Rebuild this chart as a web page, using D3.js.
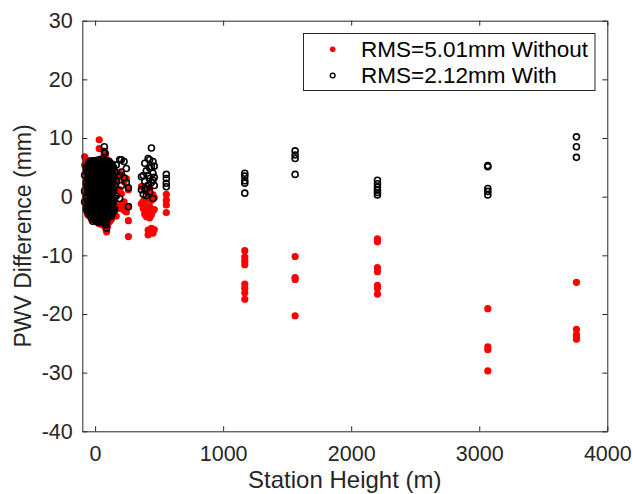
<!DOCTYPE html>
<html>
<head>
<meta charset="utf-8">
<script src="https://cdn.jsdelivr.net/npm/d3@7"></script>
<style>
  body { margin: 0; background: #fff; }
  svg { display: block; font-family: "Liberation Sans", Arial, sans-serif; }
</style>
</head>
<body>
<svg id="chart" width="633" height="494"></svg>
<script>

// station heights (m)
var heights = [
    -82, -70, -64, -58, -53, -48, -43, -38, -33, -28, -23, -18, -13, -8, -3,
    2, 7, 12, 17, 22, 27, 32, 37, 42, 47, 52, 57, 62, 67, 72, 77, 82, 86, 90, 95,
    100, 105, 110, 115, 120, 125, 130, 135, 140, 146, 152, 165, 192, 205, 226, 244, 260,
    362, 376, 388, 400, 414, 426, 440, 452, 462, 556,
    1169, 1562, 2205, 3067, 3759
];

// PWV difference without correction (mm), one list per station
var withoutDiff = [
    [6.8, 5.4, 3.6, 0.7, -0.8],     // -82
    [6.3, 4.4, 1.9, -1.5],          // -70
    [5.0, 2.9, -1.0],               // -64
    [5.8, 3.9, 0.2, -2.4, -3.1],    // -58
    [4.6, 1.0, -2.0],               // -53
    [6.1, 2.8, -0.6, -2.9],         // -48
    [4.2, 0.3, -2.6],               // -43
    [5.7, 1.2, -1.8, -3.4],         // -38
    [5.1, 2.0, -3.0],               // -33
    [4.9, 0.8, -2.6, -3.9],         // -28
    [3.8, -0.2, -3.2],              // -23
    [6.0, 2.4, -1.1, -3.5],         // -18
    [4.6, 0.6, -2.8],               // -13
    [5.5, 3.3, -0.4, -3.7],         // -8
    [4.0, 1.3, -3.3],               // -3
    [5.9, 1.7, -2.1, -4.0],         // 2
    [5.2, 2.5, -2.7],               // 7
    [6.2, 3.0, -1.4, -3.8],         // 12
    [4.5, -0.9, -3.5],              // 17
    [5.6, 0.9, -2.4, -4.3],         // 22
    [3.9, 1.5, -4.0],               // 27
    [9.7, 8.2, 4.8, -0.8, -3.6, -4.6], // 32
    [5.0, 0.2, -3.1],               // 37
    [6.4, 2.2, -1.9, -4.1],         // 42
    [4.3, -1.2, -4.7],              // 47
    [5.2, 1.4, -2.8, -4.5],         // 52
    [5.6, 2.4, -3.4],               // 57
    [6.6, 3.5, -0.7, -3.9],         // 62
    [4.7, 0.0, -4.9],               // 67
    [7.2, 2.6, -1.6, -4.4],         // 72
    [6.4, 1.8, -3.7],               // 77
    [7.3, 5.8, 1.0, -2.9, -5.2],    // 82
    [5.1, 0.6, -5.6],               // 86
    [6.3, 3.1, -1.2, -4.8, -6.0],   // 90
    [4.5, -0.3, -5.0],              // 95
    [5.4, 0.4, -2.7, -4.6],         // 100
    [4.8, 1.3, -3.9],               // 105
    [6.1, 2.0, -1.8, -3.9],         // 110
    [4.2, -0.6, -4.2],              // 115
    [5.0, 1.1, -2.2, -3.3],         // 120
    [3.7, 0.7, -3.9],               // 125
    [4.4, 0.1, -2.9, -3.6],         // 130
    [4.1, -1.2, -3.5],              // 135
    [3.9, -0.5, -2.3, -3.2],        // 140
    [3.0, -1.5, -2.9],              // 146
    [3.5, -0.9, -2.6],              // 152
    [2.9, -1.6, -3.3],              // 165
    [4.0, 1.2, -2.0],               // 192
    [3.7, 0.5, -1.4],               // 205
    [2.6, -0.9, -2.3],              // 226
    [3.1, -2.6],                    // 244
    [1.2, -1.7, -4.1, -6.8],        // 260
    [1.7, -1.2],                    // 362
    [1.7, -0.8, -2.0],              // 376
    [-1.1, -2.4, -3.0],             // 388
    [0.9, -1.8, -3.4],              // 400
    [-0.3, -2.9, -5.7, -6.5],       // 414
    [1.4, -1.7, -3.6],              // 426
    [-0.6, -3.1, -5.4],             // 440
    [0.3, -2.4, -6.2],              // 452
    [-0.2, -2.2, -5.6],             // 462
    [0.4, -0.6, -1.4, -2.7],        // 556
    [-9.2, -10.3, -11.0, -11.6, -14.9, -15.6, -16.4, -17.5], // 1169
    [-10.2, -13.8, -14.1, -20.3],   // 1562
    [-7.2, -7.7, -12.1, -12.8, -15.1, -15.6, -16.6], // 2205
    [-19.1, -25.6, -26.1, -29.7],   // 3067
    [-14.6, -22.6, -23.5, -24.0, -24.3] // 3759
];

// PWV difference with correction (mm)
var withDiff = [
    [3.7, 1.0, -0.9],                               // -82
    [5.0, 2.4, -0.2, -2.1],                         // -70
    [4.2, 1.8, -0.6, -2.4],                         // -64
    [5.3, 3.1, 1.0, -0.9, -2.6],                    // -58
    [4.8, 2.7, 1.5, -0.1, -1.8],                    // -53
    [5.6, 4.0, 2.3, 0.6, -1.4, -2.9],               // -48
    [6.0, 4.7, 3.0, 1.3, -0.5, -2.2, -3.0],         // -43
    [5.0, 3.4, 1.6, -0.2, -1.9, -3.3],              // -38
    [4.6, 2.9, 1.4, -0.9, -2.6],                    // -33
    [5.8, 4.3, 2.7, 1.1, -0.6, -2.3, -3.6],         // -28
    [6.1, 5.0, 3.3, 1.6, 0.0, -1.6, -3.0],          // -23
    [5.3, 3.7, 2.0, 0.3, -1.3, -2.8, -4.2],         // -18
    [4.8, 3.0, 1.3, -0.5, -2.2, -3.7],              // -13
    [5.9, 4.5, 2.9, 1.4, -0.1, -1.7, -3.1],         // -8
    [6.1, 5.1, 3.6, 2.0, 0.2, -1.3, -2.9, -4.0],    // -3
    [5.4, 3.9, 2.2, 0.7, -0.9, -2.5, -3.8],         // 2
    [4.6, 3.1, 1.5, -0.2, -1.6, -3.0],              // 7
    [5.7, 4.2, 2.6, 1.0, -0.5, -2.0, -3.4],         // 12
    [6.2, 4.9, 3.3, 1.7, 0.0, -1.5, -3.1, -4.3],    // 17
    [5.1, 3.5, 1.9, 0.4, -1.1, -2.7, -3.9],         // 22
    [4.7, 3.0, 1.6, -0.7, -2.3, -3.6],              // 27
    [5.9, 4.4, 2.8, 1.3, -0.3, -1.8, -3.3, -4.4],   // 32
    [6.3, 5.2, 3.5, 1.9, 0.3, -1.3, -2.9, -4.0],    // 37
    [5.5, 3.8, 2.3, 0.8, -0.8, -2.3, -3.7],         // 42
    [4.6, 3.1, 1.6, 0.0, -1.5, -3.0, -4.2],         // 47
    [6.0, 4.3, 2.7, 1.2, -0.4, -1.9, -3.2],         // 52
    [5.7, 5.0, 3.3, 1.7, 0.1, -1.4, -2.9, -3.8],    // 57
    [5.3, 3.6, 2.0, 0.5, -1.0, -2.6, -4.0],         // 62
    [6.2, 4.6, 3.0, 1.4, -0.3, -1.8, -3.2, -4.5],   // 67
    [8.5, 7.7, 5.8, 4.1, 2.5, 0.9, -0.6, -2.2, -3.5], // 72
    [7.4, 5.1, 3.4, 1.7, 0.1, -1.5, -3.0],          // 77
    [5.6, 4.0, 2.4, 0.9, -0.7, -2.4, -3.9],         // 82
    [6.1, 4.7, 3.0, 1.5, -0.1, -1.8, -3.3, -4.8],   // 86
    [5.2, 3.7, 2.1, 0.6, -1.2, -2.8, -4.3, -5.4],   // 90
    [4.9, 3.1, 1.5, -0.1, -1.7, -3.2],              // 95
    [5.8, 4.3, 2.8, 1.2, -0.4, -2.0, -3.4],         // 100
    [6.0, 4.6, 3.2, 1.5, -0.1, -1.6, -2.8],         // 105
    [5.0, 3.4, 1.8, 0.2, -1.4, -3.0],               // 110
    [5.7, 4.3, 2.7, 1.0, -0.6, -2.2, -3.3],         // 115
    [5.4, 3.9, 2.3, 0.8, -0.9, -2.5],               // 120
    [4.6, 2.9, 1.2, -0.5, -2.0, -3.4],              // 125
    [4.9, 3.3, 1.5, -0.1, -1.7, -3.1],              // 130
    [5.5, 4.0, 2.2, 0.5, -1.4, -2.8],               // 135
    [5.1, 2.9, 0.9, -1.1, -2.6],                    // 140
    [4.9, 3.5, 1.3, -0.6, -2.4],                    // 146
    [4.3, 2.0, -0.2, -2.1],                         // 152
    [5.4, 2.6, 0.1],                                // 165
    [6.3, 3.6, -0.3],                               // 192
    [6.3, 4.2, 1.9],                                // 205
    [6.0, 3.2],                                     // 226
    [4.8, 2.4],                                     // 244
    [1.5, -1.7],                                    // 260
    [3.4, 1.2],                                     // 362
    [3.6, 0.4],                                     // 376
    [5.7, 2.6, 1.4],                                // 388
    [4.4, 1.4, 0.2],                                // 400
    [6.5, 3.6, 2.0],                                // 414
    [6.3, 4.9, 3.1, 0.8],                           // 426
    [8.3, 5.1, 2.4],                                // 440
    [6.0, 4.0, 2.8, -0.3],                          // 452
    [5.2, 3.3, 1.9],                                // 462
    [3.8, 3.1, 2.3, 1.7],                           // 556
    [4.0, 3.5, 2.7, 2.3, 0.6],                      // 1169
    [7.8, 7.1, 6.5, 3.8],                           // 1562
    [2.8, 2.2, 1.6, 1.1, 0.7, 0.3],                 // 2205
    [5.3, 5.1, 1.4, 0.9, 0.3],                      // 3067
    [10.2, 8.5, 6.7]                                // 3759
];

var xTicks = [0, 1000, 2000, 3000, 4000];
var yTicks = [-40, -30, -20, -10, 0, 10, 20, 30];
var legendLabels = ["RMS=5.01mm Without", "RMS=2.12mm With"];

// layout (plotTop: "top" is taken by window.top)
var plotLeft = 82.3, plotRight = 607.3, plotTop = 20.7, plotBottom = 431.3;
var axisColor = "#262626";

var svg = d3.select("#chart");

var x = d3.scaleLinear().domain([-100, 4000]).range([plotLeft, plotRight]);
var y = d3.scaleLinear().domain([-40, 30]).range([plotBottom, plotTop]);

function flatten(vals) {
    return heights.flatMap(function (h, i) {
        return vals[i].map(function (v) { return { h: h, v: v }; });
    });
}

// red dots first, black circles on top
svg.append("g").selectAll("circle")
    .data(flatten(withoutDiff))
    .join("circle")
    .attr("cx", function (d) { return x(d.h); })
    .attr("cy", function (d) { return y(d.v); })
    .attr("r", 3.6)
    .attr("fill", "#ff0000");

svg.append("g").selectAll("circle")
    .data(flatten(withDiff))
    .join("circle")
    .attr("cx", function (d) { return x(d.h); })
    .attr("cy", function (d) { return y(d.v); })
    .attr("r", 3.0)
    .attr("fill", "none")
    .attr("stroke", "#000")
    .attr("stroke-width", 1.6);

// axes, ticks pointing inwards on all four sides
function styleAxis(g) {
    g.attr("font-family", null).attr("font-size", null);
    g.selectAll("path, line").attr("stroke", axisColor);
    g.selectAll("text").attr("fill", axisColor).style("font-size", "21.5px");
}

// plain hyphen minus like the original
var fmt = function (d) { return String(d); };

svg.append("g").attr("transform", "translate(0," + plotBottom + ")")
    .call(d3.axisBottom(x).tickValues(xTicks).tickFormat(fmt).tickSize(-5).tickSizeOuter(0).tickPadding(14.4))
    .call(styleAxis);

svg.append("g").attr("transform", "translate(" + plotLeft + ",0)")
    .call(d3.axisLeft(y).tickValues(yTicks).tickFormat(fmt).tickSize(-5).tickSizeOuter(0).tickPadding(9.6))
    .call(styleAxis);

svg.append("g").attr("transform", "translate(0," + plotTop + ")")
    .call(d3.axisTop(x).tickValues(xTicks).tickSize(-5).tickSizeOuter(0).tickFormat(""))
    .call(styleAxis);

svg.append("g").attr("transform", "translate(" + plotRight + ",0)")
    .call(d3.axisRight(y).tickValues(yTicks).tickSize(-5).tickSizeOuter(0).tickFormat(""))
    .call(styleAxis);

// axis labels
svg.append("text")
    .attr("x", (plotLeft + plotRight) / 2)
    .attr("y", 488)
    .attr("text-anchor", "middle")
    .attr("fill", axisColor)
    .style("font-size", "24px")
    .text("Station Height (m)");

svg.append("text")
    .attr("transform", "translate(31,236) rotate(-90)")
    .attr("text-anchor", "middle")
    .attr("fill", axisColor)
    .style("font-size", "23px")
    .text("PWV Difference (mm)");

// legend
var legend = svg.append("g");
legend.append("rect")
    .attr("x", 303.5).attr("y", 33.5)
    .attr("width", 291.5).attr("height", 57)
    .attr("fill", "#fff")
    .attr("stroke", axisColor)
    .attr("stroke-width", 1);

legend.append("circle")
    .attr("cx", 332.7).attr("cy", 49.3).attr("r", 2.8)
    .attr("fill", "#ff0000");
legend.append("circle")
    .attr("cx", 332.7).attr("cy", 75.5).attr("r", 2.4)
    .attr("fill", "none").attr("stroke", "#000").attr("stroke-width", 1.3);

legend.selectAll("text")
    .data(legendLabels)
    .join("text")
    .attr("x", 361)
    .attr("y", function (d, i) { return 57 + i * 26.3; })
    .attr("fill", "#000")
    .style("font-size", "22.5px")
    .text(function (d) { return d; });

</script>
</body>
</html>
